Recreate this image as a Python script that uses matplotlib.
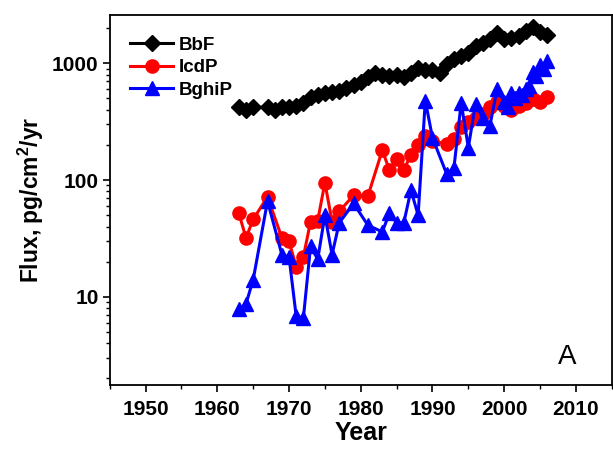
import matplotlib
matplotlib.use("Agg")
import matplotlib.pyplot as plt
from matplotlib.ticker import LogLocator, NullFormatter, FixedLocator

plt.rcParams['font.family'] = ['Liberation Sans', 'DejaVu Sans']
plt.rcParams['font.weight'] = 'bold'
plt.rcParams['mathtext.fontset'] = 'custom'
plt.rcParams['mathtext.bf'] = 'Liberation Sans:bold'
plt.rcParams['mathtext.rm'] = 'Liberation Sans:bold'

# BbF
bbf_years = [1963, 1964, 1965, 1967, 1968, 1969, 1970, 1971, 1972, 1973, 1974, 1975,
             1976, 1977, 1978, 1979, 1980, 1981, 1982, 1983, 1984, 1985, 1986, 1987,
             1988, 1989, 1990, 1991, 1992, 1993, 1994, 1995, 1996, 1997, 1998, 1999,
             2000, 2001, 2002, 2003, 2004, 2005, 2006]
bbf_vals = [420, 400, 420, 420, 400, 425, 420, 430, 460, 510, 540, 560,
            570, 580, 610, 650, 690, 760, 830, 800, 780, 790, 770, 830,
            910, 880, 880, 820, 980, 1080, 1150, 1230, 1400, 1500, 1600, 1800,
            1600, 1650, 1700, 1900, 2050, 1850, 1750]

# IcdP
icdp_years = [1963, 1964, 1965, 1967, 1969, 1970, 1971, 1972, 1973, 1974, 1975, 1976,
              1977, 1979, 1981, 1983, 1984, 1985, 1986, 1987, 1988, 1989, 1990, 1992,
              1993, 1994, 1995, 1996, 1997, 1998, 1999, 2000, 2001, 2002, 2003, 2004,
              2005, 2006]
icdp_vals = [52, 32, 46, 72, 32, 30, 18, 22, 44, 45, 95, 44,
             54, 74, 73, 180, 122, 150, 122, 165, 200, 240, 215, 205,
             225, 285, 315, 340, 370, 420, 470, 430, 400, 430, 460, 490,
             470, 510]

# BghiP
bghip_years = [1963, 1964, 1965, 1967, 1969, 1970, 1971, 1972, 1973, 1974, 1975, 1976,
               1977, 1979, 1981, 1983, 1984, 1985, 1986, 1987, 1988, 1989, 1990, 1992,
               1993, 1994, 1995, 1996, 1997, 1998, 1999, 2000, 2000.5, 2001, 2001.5,
               2002, 2002.5, 2003, 2003.5, 2004, 2004.5, 2005, 2005.5, 2006]
bghip_vals = [7.8, 8.7, 14, 66, 23, 22, 6.8, 6.6, 27, 21, 50, 23,
              43, 63, 41, 36, 52, 43, 43, 82, 50, 480, 230, 112,
              128, 460, 190, 450, 340, 290, 600, 470, 420, 560, 500,
              560, 530, 600, 640, 850, 780, 960, 900, 1050]

fig = plt.figure(figsize=(6.13, 4.5), dpi=100)
ax = fig.add_axes([0.179, 0.144, 0.819, 0.823])

ax.plot(bbf_years, bbf_vals, color='black', marker='D', markersize=8.5, lw=2.2, label='BbF')
ax.plot(icdp_years, icdp_vals, color='#ff0000', marker='o', markersize=9.5, lw=2.2, label='IcdP')
ax.plot(bghip_years, bghip_vals, color='#0000ff', marker='^', markersize=10, lw=2.2, label='BghiP')

ax.set_yscale('log')
ax.set_xlim(1945, 2015)
ax.set_ylim(1.75, 2600)

ax.set_xticks([1950, 1960, 1970, 1980, 1990, 2000, 2010])
ax.xaxis.set_minor_locator(FixedLocator([1945, 1955, 1965, 1975, 1985, 1995, 2005, 2015]))
ax.yaxis.set_minor_locator(LogLocator(base=10, subs=range(2, 10), numticks=20))
ax.yaxis.set_minor_formatter(NullFormatter())
ax.set_yticks([10, 100, 1000])
ax.set_yticklabels(['10', '100', '1000'])

ax.tick_params(axis='both', which='major', direction='out', length=5, width=1.2,
               labelsize=15, top=False, right=False, pad=3)
ax.tick_params(axis='x', which='major', pad=6)
ax.tick_params(axis='both', which='minor', direction='out', length=3, width=1.0,
               top=False, right=False)
for lab in ax.get_xticklabels() + ax.get_yticklabels():
    lab.set_fontweight('bold')
for s in ax.spines.values():
    s.set_linewidth(1.3)

ax.set_xlabel('Year', fontsize=18, fontweight='bold', labelpad=1)
ax.set_ylabel(r'Flux, pg/cm$^\mathbf{2}$/yr', fontsize=16.5, fontweight='bold', labelpad=4)

leg = ax.legend(loc='upper left', bbox_to_anchor=(0.026, 0.962), borderaxespad=0,
                frameon=False, handlelength=2.3, labelspacing=0.3,
                handletextpad=0.3, prop={'weight': 'bold', 'size': 13.5})

ax.text(0.911, 0.076, 'A', transform=ax.transAxes, fontsize=20, fontweight='normal',
        ha='center', va='center')

fig.savefig('out.png', dpi=100)
